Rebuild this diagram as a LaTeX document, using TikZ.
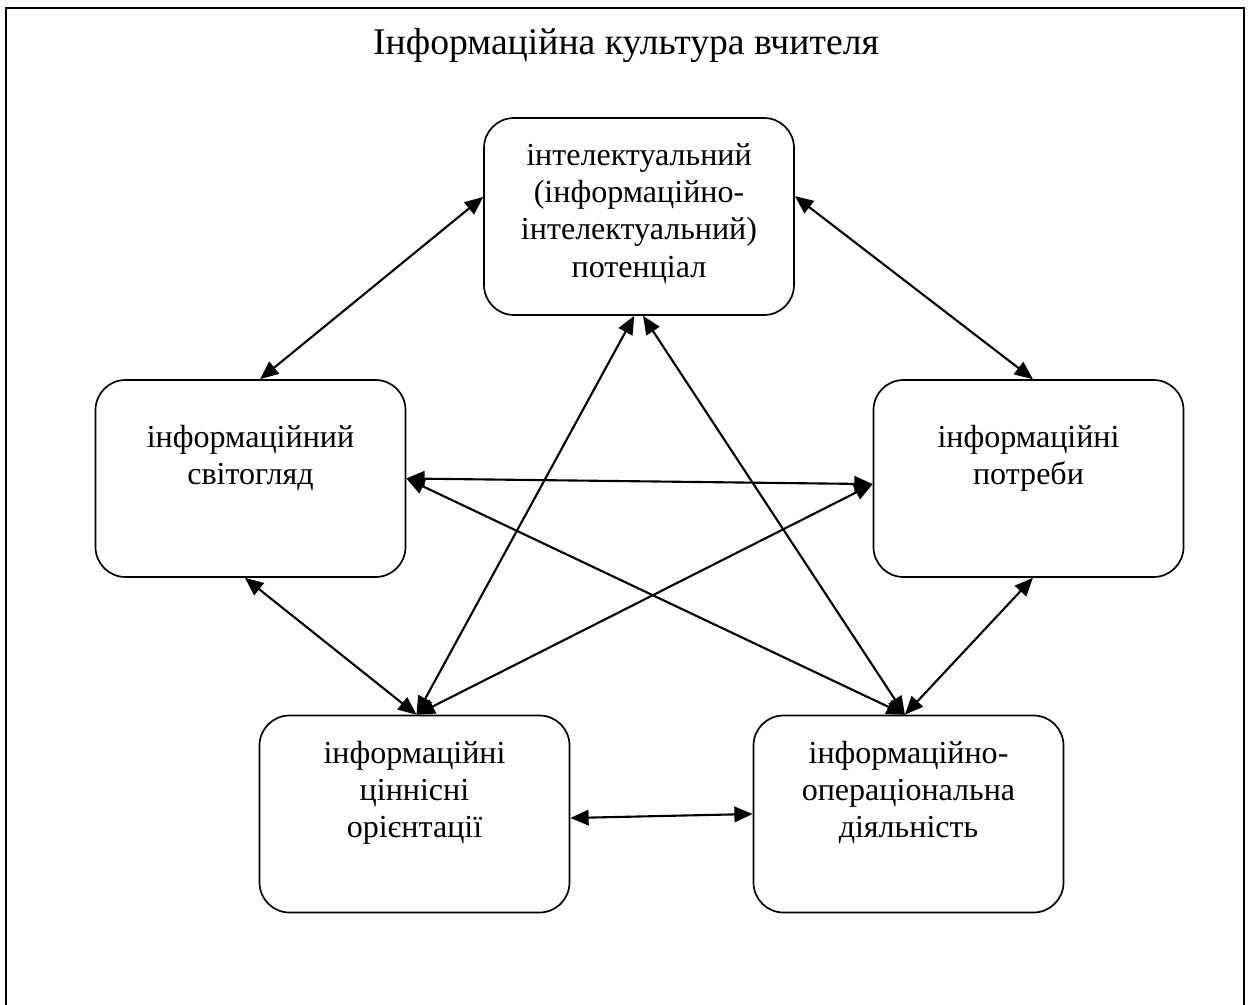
\documentclass[tikz,border=0pt]{standalone}
\usepackage{fontspec}
\setmainfont{Liberation Serif}
\usetikzlibrary{positioning,arrows.meta}

\begin{document}
\begin{tikzpicture}
        [box/.style={draw, rounded corners=0.75cm, line width=1.2pt,
                     minimum width=7.75cm, minimum height=4.925cm, inner sep=0pt},
        boxtext/.style={align=center, font=\fontsize{22.8}{26.5}\selectfont, inner sep=0pt},
        link/.style={line width=1.5pt, {Triangle[length=13pt, width=11pt]}-{Triangle[length=13pt, width=11pt]}},
        frame/.style={line width=1.6pt}]

        \useasboundingbox (0,0) rectangle (31.3,-25.125);

        % outer frame (its bottom edge lies below the page)
        \draw[frame] (0.15,-26) -- (0.15,-0.2) -- (31.1,-0.2) -- (31.1,-26);

        \node[font=\fontsize{26.8}{32}\selectfont] (title) at (15.65,-1.15) {Інформаційна культура вчителя};

        % the five boxes
        \node[box] (pot) at (15.975,-5.4125) {};
        \node[box] (svit) at (6.2625,-11.9625) {};
        \node[box] (potr) at (25.7125,-11.9625) {};
        \node[box] (orient) at (10.3625,-20.35) {};
        \node[box] (diial) at (22.7125,-20.35) {};

        % texts, hung from the top edge of each box
        \node[boxtext, anchor=north] (potT) at ([yshift=-0.65cm]pot.north)
            {інтелектуальний\\(інформаційно-\\інтелектуальний)\\потенціал};
        \node[boxtext, anchor=north] (svitT) at ([yshift=-1.15cm]svit.north)
            {інформаційний\\світогляд};
        \node[boxtext, anchor=north] (potrT) at ([yshift=-1.15cm]potr.north)
            {інформаційні\\потреби};
        \node[boxtext, anchor=north] (orientT) at ([yshift=-0.65cm]orient.north)
            {інформаційні\\ціннісні\\орієнтації};
        \node[boxtext, anchor=north] (diialT) at ([yshift=-0.65cm]diial.north)
            {інформаційно-\\операціональна\\діяльність};

        % outer ring of links
        \draw[link] ([yshift=0.49cm]pot.west) -- ([xshift=0.24cm]svit.north);
        \draw[link] ([yshift=0.51cm]pot.east) -- ([xshift=0.11cm]potr.north);
        \draw[link] ([xshift=-0.14cm]svit.south) -- ([xshift=0.05cm]orient.north);
        \draw[link] ([xshift=0.11cm]potr.south) -- ([xshift=-0.09cm]diial.north);
        \draw[link] ([yshift=-0.1cm]orient.east) -- (diial.west);

        % inner star of links
        \draw[link] (svit.east) -- ([yshift=-0.14cm]potr.west);
        \draw[link] ([xshift=-0.12cm]pot.south) -- ([xshift=0.05cm]orient.north);
        \draw[link] ([xshift=0.1cm]pot.south) -- ([xshift=-0.09cm]diial.north);
        \draw[link] (svit.east) -- ([xshift=-0.09cm]diial.north);
        \draw[link] ([yshift=-0.14cm]potr.west) -- ([xshift=0.05cm]orient.north);
\end{tikzpicture}
\end{document}
